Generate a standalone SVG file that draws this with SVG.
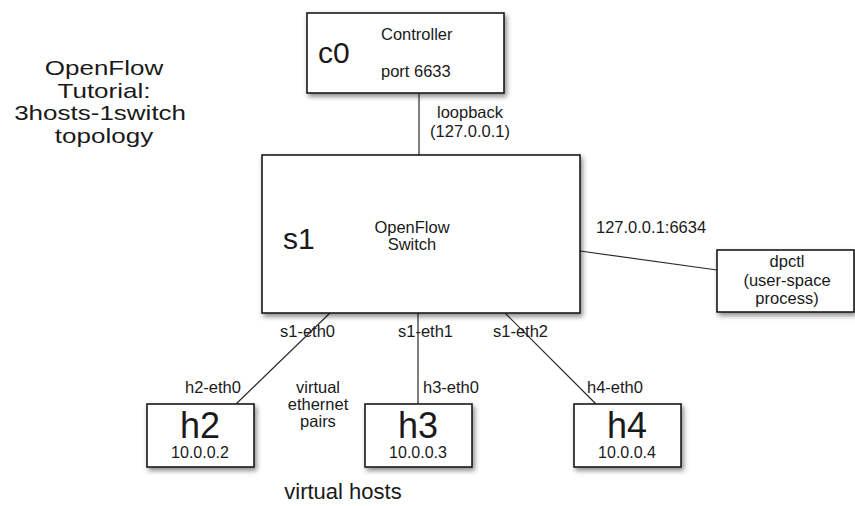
<svg xmlns="http://www.w3.org/2000/svg" width="855" height="506" viewBox="0 0 855 506">
  <defs>
    <filter id="shadow" x="-10%" y="-10%" width="130%" height="140%">
      <feDropShadow dx="2" dy="3" stdDeviation="2.5" flood-color="#000" flood-opacity="0.45"/>
    </filter>
  </defs>
  <style>
    text { font-family: "Liberation Sans", Arial, Helvetica, sans-serif; fill: #1a1a1a; }
    .box { fill: #ffffff; stroke: #1a1a1a; stroke-width: 1.6; filter: url(#shadow); }
    .wire { stroke: #2a2a2a; stroke-width: 1.2; fill: none; }
    .big { font-size: 30px; }
    .host { font-size: 36px; text-anchor: middle; }
    .ip { font-size: 16px; text-anchor: middle; }
    .lbl { font-size: 16.5px; }
    .mid { text-anchor: middle; }
    .title { font-size: 20px; text-anchor: middle; }
  </style>
  <rect width="855" height="506" fill="#ffffff"/>

  <g id="title" transform="translate(104,0) scale(1.3,1)">
    <text class="title" x="0" y="75.5">OpenFlow</text>
    <text class="title" x="0" y="98">Tutorial:</text>
    <text class="title" x="-3" y="120.5">3hosts-1switch</text>
    <text class="title" x="0" y="143">topology</text>
  </g>

  <g id="connectors">
    <line class="wire" x1="419" y1="93" x2="419" y2="155"/>
    <line class="wire" x1="580" y1="251" x2="717" y2="270"/>
    <line class="wire" x1="330" y1="313" x2="236" y2="404"/>
    <line class="wire" x1="418" y1="313" x2="418" y2="404"/>
    <line class="wire" x1="505" y1="313" x2="596" y2="404"/>
    <text class="lbl mid" x="470" y="118">loopback</text>
    <text class="lbl mid" x="470" y="137">(127.0.0.1)</text>
    <text class="lbl" x="596" y="233">127.0.0.1:6634</text>
    <text class="lbl" x="280" y="337">s1-eth0</text>
    <text class="lbl" x="398" y="337">s1-eth1</text>
    <text class="lbl" x="493" y="337">s1-eth2</text>
    <text class="lbl" x="185" y="393">h2-eth0</text>
    <text class="lbl" x="423" y="393">h3-eth0</text>
    <text class="lbl" x="587" y="393">h4-eth0</text>
  </g>

  <g id="c0">
    <rect class="box" x="307" y="13" width="197" height="80"/>
    <text class="big" x="318" y="63">c0</text>
    <text class="lbl" x="381" y="40">Controller</text>
    <text class="lbl" x="381" y="77">port 6633</text>
  </g>

  <g id="s1">
    <rect class="box" x="262" y="155" width="318" height="158"/>
    <text class="big" x="283" y="249">s1</text>
    <text class="lbl mid" x="412" y="233">OpenFlow</text>
    <text class="lbl mid" x="412" y="250">Switch</text>
  </g>

  <g id="dpctl">
    <rect class="box" x="717" y="250" width="137" height="62"/>
    <text class="lbl mid" x="787" y="267">dpctl</text>
    <text class="lbl mid" x="787" y="286">(user-space</text>
    <text class="lbl mid" x="787" y="304">process)</text>
  </g>

  <g id="h2">
    <rect class="box" x="147" y="404" width="107" height="63"/>
    <text class="host" x="200" y="438">h2</text>
    <text class="ip" x="200" y="458">10.0.0.2</text>
  </g>

  <g id="h3">
    <rect class="box" x="365" y="404" width="107" height="63"/>
    <text class="host" x="418" y="438">h3</text>
    <text class="ip" x="418" y="458">10.0.0.3</text>
  </g>

  <g id="h4">
    <rect class="box" x="574" y="404" width="107" height="63"/>
    <text class="host" x="627" y="438">h4</text>
    <text class="ip" x="627" y="458">10.0.0.4</text>
  </g>

  <g id="notes">
    <text class="lbl mid" x="318" y="393">virtual</text>
    <text class="lbl mid" x="318" y="410">ethernet</text>
    <text class="lbl mid" x="318" y="427">pairs</text>
    <text class="mid" x="343" y="499" font-size="22">virtual hosts</text>
  </g>
</svg>
